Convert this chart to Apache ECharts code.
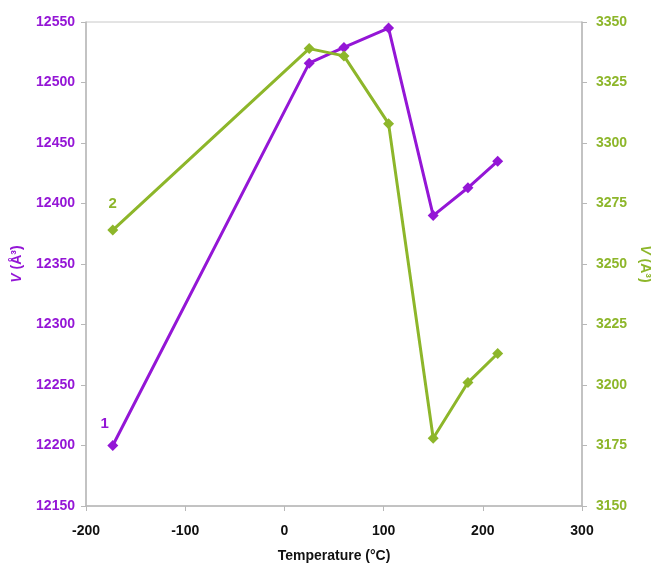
<!DOCTYPE html>
<html>
<head>
<meta charset="utf-8">
<script src="https://cdn.jsdelivr.net/npm/echarts@6/dist/echarts.min.js"></script>
<style>
html,body{margin:0;padding:0;background:#fff;}
#main{width:651px;height:565px;}
</style>
</head>
<body>
<div id="main"></div>
<script>
// temperatures (°C)
var temps = [-173, 25, 60, 105, 150, 185, 215];
// sample 1, left axis
var vol1 = [12200, 12516, 12529, 12545, 12390, 12413, 12435];
// sample 2, right axis
var vol2 = [3264, 3339, 3336, 3308, 3178, 3201, 3213];

var purple = '#9416d6';
var green = '#8db62a';

function pairs(xs, ys, tag, off) {
    var out = [];
    for (var i = 0; i < xs.length; i++) {
        var item = { value: [xs[i], ys[i]] };
        if (i == 0) {
            item.label = {
                show: true,
                formatter: tag,
                position: 'top',
                offset: off,
                fontWeight: 'bold',
                fontSize: 15
            };
        }
        out.push(item);
    }
    return out;
}

function plain(v) { return String(v); }

var myChart = echarts.init(document.getElementById('main'));
var option = {
    animation: false,
    textStyle: { fontFamily: 'Liberation Sans, Arial, sans-serif' },
    grid: {
        left: 86, right: 69, top: 22, bottom: 59,
        outerBoundsMode: 'none',
        containLabel: false,
        show: true, borderColor: '#c8c8c8', borderWidth: 1
    },
    xAxis: {
        type: 'value',
        min: -200, max: 300, interval: 100,
        name: 'Temperature (°C)',
        nameLocation: 'middle',
        nameGap: 43,
        nameTextStyle: { color: '#111', fontWeight: 'bold', fontSize: 14 },
        axisLine: { onZero: false, lineStyle: { color: '#b8b8b8', width: 1.5 } },
        axisTick: { show: true, inside: false, length: 5, lineStyle: { color: '#b8b8b8' } },
        axisLabel: { color: '#111', fontWeight: 'bold', fontSize: 14, margin: 18, formatter: plain },
        splitLine: { show: false }
    },
    yAxis: [
        {
            type: 'value',
            min: 12150, max: 12550, interval: 50,
            name: '{i|V} (Å³)',
            nameLocation: 'middle',
            nameGap: 62,
            nameTextStyle: {
                color: purple, fontWeight: 'bold', fontSize: 14,
                rich: { i: { fontStyle: 'italic', fontWeight: 'bold', fontSize: 14, color: purple } }
            },
            axisLine: { show: true, onZero: false, lineStyle: { color: '#b8b8b8', width: 1.5 } },
            axisTick: { show: true, inside: false, length: 5, lineStyle: { color: '#b8b8b8' } },
            axisLabel: { color: purple, fontWeight: 'bold', fontSize: 14, margin: 11, formatter: plain },
            splitLine: { show: false }
        },
        {
            type: 'value',
            min: 3150, max: 3350, interval: 25,
            name: '{i|V} (Å³)',
            nameLocation: 'middle',
            nameGap: 50,
            nameRotate: -90,
            nameTextStyle: {
                color: green, fontWeight: 'bold', fontSize: 14,
                rich: { i: { fontStyle: 'italic', fontWeight: 'bold', fontSize: 14, color: green } }
            },
            axisLine: { show: true, onZero: false, lineStyle: { color: '#b8b8b8', width: 1.5 } },
            axisTick: { show: true, inside: false, length: 5, lineStyle: { color: '#b8b8b8' } },
            axisLabel: { color: green, fontWeight: 'bold', fontSize: 14, margin: 14, formatter: plain },
            splitLine: { show: false }
        }
    ],
    series: [
        {
            name: '1',
            type: 'line',
            yAxisIndex: 0,
            symbol: 'diamond',
            symbolSize: 11,
            lineStyle: { color: purple, width: 3 },
            itemStyle: { color: purple },
            label: { color: purple },
            data: pairs(temps, vol1, '1', [-8, -4])
        },
        {
            name: '2',
            type: 'line',
            yAxisIndex: 1,
            symbol: 'diamond',
            symbolSize: 11,
            lineStyle: { color: green, width: 3 },
            itemStyle: { color: green },
            label: { color: green },
            data: pairs(temps, vol2, '2', [0, -8])
        }
    ]
};
myChart.setOption(option);
</script>
</body>
</html>
